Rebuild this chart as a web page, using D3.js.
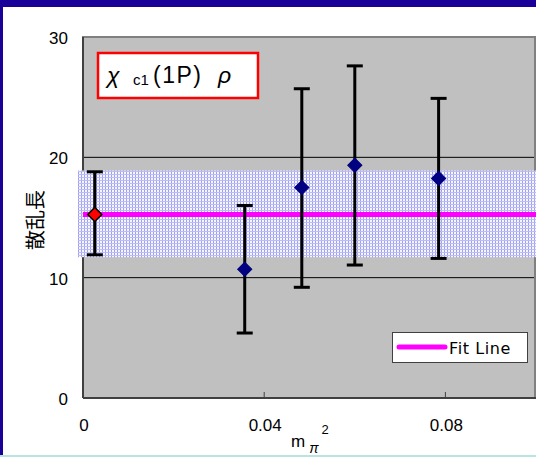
<!DOCTYPE html>
<html>
<head>
<meta charset="utf-8">
<script src="https://cdn.jsdelivr.net/npm/d3@7"></script>
<style>
  body { margin: 0; background: #fff; }
  svg { display: block; }
</style>
</head>
<body>
<svg id="chart" width="536" height="457"></svg>
<script>
// data
const xVals = [0.0026, 0.0357, 0.0483, 0.0600, 0.0785];
const yVals = [15.25, 10.7, 17.5, 19.35, 18.25];
const yHigh = [18.8, 16.0, 25.7, 27.6, 24.9];
const yLow = [11.9, 5.4, 9.2, 11.05, 11.6];
const fitValue = 15.25;
const fitBand = [11.7, 18.9];
const xTicks = [0, 0.04, 0.08];
const xTickLabels = ["0", "0.04", "0.08"];
const yTicks = [0, 10, 20, 30];

const svg = d3.select("#chart");
const W = 536, H = 457;
const plotL = 83, plotR = 536, plotT = 37, plotB = 398;

const x = d3.scaleLinear().domain([0, 0.1]).range([plotL, plotR]);
const y = d3.scaleLinear().domain([0, 30]).range([plotB, plotT]);

// frame
svg.append("rect").attr("x", 0).attr("y", 0).attr("width", W).attr("height", 7).attr("fill", "#1a0099");
svg.append("rect").attr("x", 0).attr("y", 0).attr("width", 3).attr("height", H).attr("fill", "#1a0099");
svg.append("rect").attr("x", 0).attr("y", 455).attr("width", W).attr("height", 2).attr("fill", "#b8e4e4");

// band pattern
const defs = svg.append("defs");
const pat = defs.append("pattern").attr("id", "dots")
  .attr("width", 3).attr("height", 3).attr("patternUnits", "userSpaceOnUse");
pat.append("rect").attr("width", 3).attr("height", 3).attr("fill", "#f6f6ff");
pat.append("rect").attr("width", 1).attr("height", 3).attr("fill", "#a0a0f2");
pat.append("rect").attr("width", 3).attr("height", 1).attr("fill", "#bcbcf6");

// plot area
svg.append("rect").attr("x", plotL).attr("y", plotT).attr("width", plotR - plotL).attr("height", plotB - plotT)
  .attr("fill", "#c0c0c0");

// grid
svg.append("g").selectAll("line").data(yTicks.filter(d => d > 0 && d < 30)).join("line")
  .attr("x1", plotL).attr("x2", plotR).attr("y1", d => y(d)).attr("y2", d => y(d))
  .attr("stroke", "#000").attr("stroke-width", 1);

// plot border
svg.append("path")
  .attr("d", `M${plotL},${plotB}V${plotT}H${plotR - 1}V${plotB}`)
  .attr("fill", "none").attr("stroke", "#808080").attr("stroke-width", 2);
svg.append("line").attr("x1", plotL).attr("x2", plotL).attr("y1", plotT).attr("y2", plotB)
  .attr("stroke", "#404040").attr("stroke-width", 2);

// fit band
svg.append("rect")
  .attr("x", plotL - 5).attr("y", y(fitBand[1]))
  .attr("width", plotR - plotL + 5).attr("height", y(fitBand[0]) - y(fitBand[1]))
  .attr("fill", "url(#dots)");

// fit line
svg.append("line").attr("x1", plotL).attr("x2", plotR).attr("y1", y(fitValue)).attr("y2", y(fitValue))
  .attr("stroke", "#ff00ff").attr("stroke-width", 5);

// x axis
svg.append("line").attr("x1", plotL).attr("x2", plotR).attr("y1", plotB).attr("y2", plotB)
  .attr("stroke", "#404040").attr("stroke-width", 2);
svg.append("g").selectAll("line").data(xTicks.slice(1)).join("line")
  .attr("x1", d => x(d)).attr("x2", d => x(d)).attr("y1", plotB).attr("y2", plotB - 6)
  .attr("stroke", "#404040").attr("stroke-width", 1);

const tickFont = "'Liberation Sans', Arial, sans-serif";
svg.append("g").selectAll("text").data(xTicks).join("text")
  .attr("x", d => x(d) + 1).attr("y", 431)
  .attr("text-anchor", "middle").attr("font-family", tickFont).attr("font-size", 17)
  .attr("fill", "#000").text((d, i) => xTickLabels[i]);

svg.append("g").selectAll("text").data(yTicks).join("text")
  .attr("x", 68).attr("y", d => y(d) + 7)
  .attr("text-anchor", "end").attr("font-family", tickFont).attr("font-size", 17)
  .attr("fill", "#000").text(d => d);

// axis titles
svg.append("text")
  .attr("transform", "translate(34,220) rotate(-90)")
  .attr("text-anchor", "middle").attr("dominant-baseline", "central")
  .attr("font-family", "'Noto Sans CJK JP', sans-serif")
  .attr("font-size", 20).text("散乱長");

const xt = svg.append("text").attr("x", 291).attr("y", 447)
  .attr("font-family", tickFont).attr("font-size", 17);
xt.append("tspan").text("m");
xt.append("tspan").attr("font-size", 14).attr("dx", 4).attr("dy", 6).attr("font-style", "italic").text("π");
xt.append("tspan").attr("font-size", 13).attr("dx", 3).attr("dy", -19).text("2");

// error bars
const pts = xVals.map((v, i) => ({ x: v, y: yVals[i], hi: yHigh[i], lo: yLow[i], first: i === 0 }));
const eb = svg.append("g").attr("stroke", "#000").attr("stroke-width", 3);
eb.selectAll(".v").data(pts).join("line")
  .attr("x1", d => x(d.x)).attr("x2", d => x(d.x)).attr("y1", d => y(d.hi)).attr("y2", d => y(d.lo));
eb.selectAll(".t").data(pts).join("line")
  .attr("x1", d => x(d.x) - 8).attr("x2", d => x(d.x) + 8).attr("y1", d => y(d.hi)).attr("y2", d => y(d.hi));
eb.selectAll(".b").data(pts).join("line")
  .attr("x1", d => x(d.x) - 8).attr("x2", d => x(d.x) + 8).attr("y1", d => y(d.lo)).attr("y2", d => y(d.lo));

// markers
const diamond = d3.symbol(d3.symbolSquare, 100);
svg.append("g").selectAll("path").data(pts).join("path")
  .attr("d", diamond)
  .attr("transform", d => `translate(${x(d.x)},${y(d.y)}) rotate(45)`)
  .attr("fill", d => d.first ? "#ff0000" : "#000080")
  .attr("stroke", d => d.first ? "#000" : "#000080")
  .attr("stroke-width", d => d.first ? 1.5 : 1);

// title box
svg.append("rect").attr("x", 98).attr("y", 53).attr("width", 160).attr("height", 45)
  .attr("fill", "#fff").attr("stroke", "#ff0000").attr("stroke-width", 2.5);
const tt = svg.append("text").attr("y", 83)
  .attr("font-family", tickFont).attr("font-size", 23);
tt.append("tspan").attr("x", 107).attr("font-style", "italic").text("χ");
tt.append("tspan").attr("x", 133).attr("dy", 2).attr("font-size", 15).text("c1");
tt.append("tspan").attr("x", 153).attr("dy", -2).attr("letter-spacing", 1.5).text("(1P)");
tt.append("tspan").attr("x", 218).attr("font-style", "italic").text("ρ");

// legend
svg.append("rect").attr("x", 392.5).attr("y", 332.5).attr("width", 135).attr("height", 30)
  .attr("fill", "#fff").attr("stroke", "#404040").attr("stroke-width", 1);
svg.append("line").attr("x1", 399).attr("x2", 445).attr("y1", 347).attr("y2", 347)
  .attr("stroke", "#ff00ff").attr("stroke-width", 5).attr("stroke-linecap", "round");
svg.append("text").attr("x", 449).attr("y", 354)
  .attr("font-family", "'DejaVu Sans', sans-serif").attr("font-size", 16)
  .attr("letter-spacing", 0.6).text("Fit Line");
</script>
</body>
</html>
